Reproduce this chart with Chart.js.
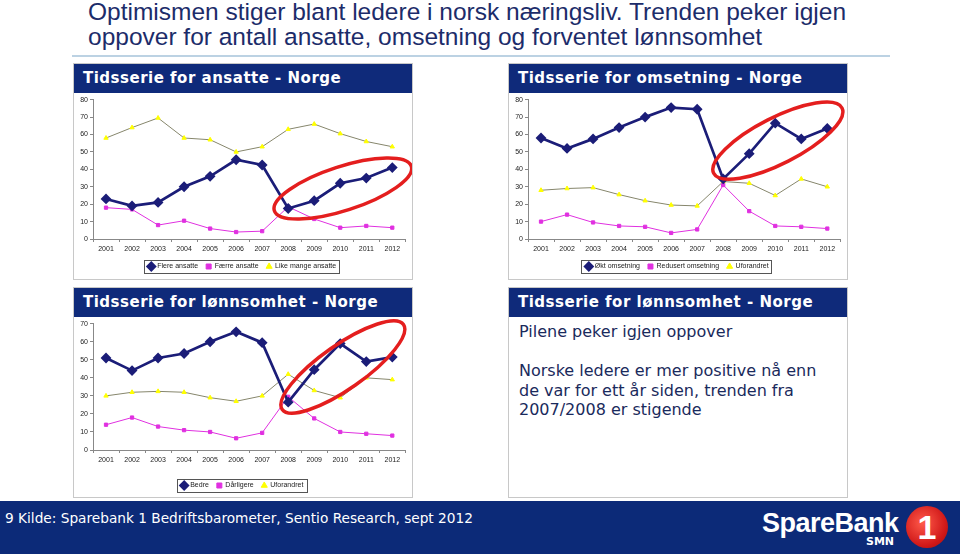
<!DOCTYPE html>
<html>
<head>
<meta charset="utf-8">
<script src="https://cdn.jsdelivr.net/npm/chart.js@4"></script>
<style>
  html, body { margin: 0; padding: 0; }
  body { width: 960px; height: 554px; position: relative; background: #fff; overflow: hidden; font-family: "DejaVu Sans", sans-serif; }
  .title { position: absolute; left: 88px; top: -1px; font-family: "Liberation Sans", Arial, sans-serif; font-size: 24.5px; line-height: 25px; color: #1c2c6a; }
  .sep { position: absolute; left: 72px; top: 55px; width: 818px; height: 2px; background: #bcd2e3; }
  .panel { position: absolute; border: 1px solid #c8c8c8; background: #fff; box-sizing: border-box; }
  .panel .head { height: 29px; background: #0f2a7a; color: #fff; font-weight: bold; font-size: 15px; letter-spacing: 0.5px; line-height: 29px; padding-left: 9px; }
  .panel canvas { position: absolute; left: 0; }
  .txt { padding: 5px 10px; color: #1a2a5c; font-size: 16px; line-height: 19.5px; }
  .footer { position: absolute; left: 0; top: 501px; width: 960px; height: 53px; background: #0c2a78; color: #fff; }
  .footer .src { position: absolute; left: 5px; top: 9px; font-size: 13.7px; }
  .logo { position: absolute; left: 762px; top: 7px; font-family: "Liberation Sans", Arial, sans-serif; font-weight: bold; color: #fff; font-size: 27px; letter-spacing: -0.5px; }
  .smn { position: absolute; left: 866px; top: 34px; font-family: "DejaVu Sans", sans-serif; font-weight: bold; color: #fff; font-size: 11px; }
  .one { position: absolute; left: 906px; top: 5px; width: 42px; height: 42px; border-radius: 50%; background: radial-gradient(circle at 40% 40%, #ff5a4a, #d01818 65%, #9a0c0c); color: #fff; font-family: "Liberation Sans", Arial, sans-serif; font-weight: bold; font-size: 34px; line-height: 42px; text-align: center; }
</style>
</head>
<body>
<div class="title">Optimismen stiger blant ledere i norsk næringsliv. Trenden peker igjen<br>oppover for antall ansatte, omsetning og forventet lønnsomhet</div>
<div class="sep"></div>

<div class="panel" style="left:73px; top:63px; width:340px; height:217px;">
  <div class="head">Tidsserie for ansatte - Norge</div>
  <canvas id="c1" style="top:29px;"></canvas>
</div>
<div class="panel" style="left:508px; top:63px; width:340px; height:217px;">
  <div class="head">Tidsserie for omsetning - Norge</div>
  <canvas id="c2" style="top:29px;"></canvas>
</div>
<div class="panel" style="left:73px; top:287px; width:340px; height:211px;">
  <div class="head">Tidsserie for lønnsomhet - Norge</div>
  <canvas id="c3" style="top:29px;"></canvas>
</div>
<div class="panel" style="left:508px; top:287px; width:340px; height:211px;">
  <div class="head">Tidsserie for lønnsomhet - Norge</div>
  <div class="txt">Pilene peker igjen oppover<br><br>Norske ledere er mer positive nå enn<br>de var for ett år siden, trenden fra<br>2007/2008 er stigende</div>
</div>

<div class="footer">
  <div class="src">9 Kilde: Sparebank 1 Bedriftsbarometer, Sentio Research, sept 2012</div>
  <div class="logo">SpareBank</div>
  <div class="smn">SMN</div>
  <div class="one">1</div>
</div>

<script>
// Data
const years = ['2001', '2002', '2003', '2004', '2005', '2006', '2007', '2008', '2009', '2010', '2011', '2012'];

const ansatteFlere = [23, 19, 21, 30, 36, 45.5, 42.5, 17.5, 22, 32, 35, 41];
const ansatteFaerre = [18, 17, 8, 10.5, 6, 4, 4.5, 18.5, 11.5, 6.5, 7.5, 6.5];
const ansatteLike = [58, 64, 69.5, 58, 57, 50, 53, 63, 66, 60.5, 56, 53];

const omsOkt = [58, 52, 57.5, 64, 70, 75.5, 74.5, 34.5, 49, 66.5, 57.5, 63.5];
const omsRedusert = [10, 14, 9.5, 7.5, 7, 3.5, 5.5, 31, 16, 7.5, 7, 6];
const omsUforandret = [28, 29, 29.5, 25.5, 22, 19.5, 19, 33, 32, 25, 34.5, 30];

const lonnBedre = [51, 44, 51, 53.5, 60, 65.5, 59.5, 26.5, 44.5, 59, 49, 51.5];
const lonnDarligere = [14, 18, 13, 11, 10, 6.5, 9.5, 29.5, 17.5, 10, 9, 8];
const lonnUforandret = [30, 32, 32.5, 32, 29, 27, 30, 42, 33, 29, 40, 39];

const NAVY = '#1b1d78';
const MAGENTA = '#e030e0';
const OLIVE = '#86866c';
const YELLOW = '#ffff00';

/**
 * Red ellipse drawn round the latest trend, centre given in data units
 */
const ellipsePlugin = {
    id: 'trendEllipse',
    afterDatasetsDraw(chart, args, opts) {
        if (!opts || opts.x === undefined) return;
        const ctx = chart.ctx;
        const cx = chart.scales.x.getPixelForValue(opts.x);
        const cy = chart.scales.y.getPixelForValue(opts.y);
        ctx.save();
        ctx.beginPath();
        ctx.ellipse(cx, cy, opts.rx, opts.ry, opts.rot * Math.PI / 180, 0, Math.PI * 2);
        ctx.strokeStyle = '#e41e1e';
        ctx.lineWidth = 3.5;
        ctx.stroke();
        ctx.restore();
    }
};

/**
 * Thin frame round the legend, like the Excel chart
 */
const legendBoxPlugin = {
    id: 'legendBox',
    afterDraw(chart) {
        const boxes = chart.legend && chart.legend.legendHitBoxes;
        if (!boxes || !boxes.length) return;
        let l = Infinity, t = Infinity, r = -Infinity, b = -Infinity;
        boxes.forEach(h => {
            l = Math.min(l, h.left); t = Math.min(t, h.top);
            r = Math.max(r, h.left + h.width); b = Math.max(b, h.top + h.height);
        });
        const ctx = chart.ctx;
        ctx.save();
        ctx.strokeStyle = '#555';
        ctx.lineWidth = 1;
        ctx.strokeRect(Math.round(l - 5) + 0.5, Math.round(t - 3) + 0.5, Math.round(r - l + 8), Math.round(b - t + 6));
        ctx.restore();
    }
};

function makeChart(id, height, yMax, topPad, xAxisHeight, names, values, ellipse) {
    const canvas = document.getElementById(id);
    canvas.width = 338;
    canvas.height = height;
    canvas.style.width = '338px';
    canvas.style.height = height + 'px';

    const styles = [
        { borderColor: NAVY, backgroundColor: NAVY, borderWidth: 2.7, pointStyle: 'rectRot', pointRadius: 3.5, pointBorderColor: NAVY },
        { borderColor: MAGENTA, backgroundColor: MAGENTA, borderWidth: 1, pointStyle: 'rect', pointRadius: 2.3, pointBorderColor: MAGENTA },
        { borderColor: OLIVE, backgroundColor: YELLOW, borderWidth: 1, pointStyle: 'triangle', pointRadius: 2.5, pointBorderColor: YELLOW }
    ];

    return new Chart(canvas, {
        type: 'line',
        data: {
            labels: years,
            datasets: names.map((name, i) => Object.assign({
                label: name,
                data: values[i],
                tension: 0,
                fill: false
            }, styles[i]))
        },
        options: {
            responsive: false,
            animation: false,
            layout: { padding: { left: 0, right: 1, top: topPad, bottom: 0 } },
            scales: {
                x: {
                    offset: true,
                    grid: { drawOnChartArea: false, drawTicks: true, tickLength: 3, color: '#888', offset: true },
                    border: { color: '#888' },
                    ticks: { font: { family: 'Liberation Sans', size: 7 }, color: '#222', padding: 3, maxRotation: 0 },
                    afterFit: s => { s.height = xAxisHeight; }
                },
                y: {
                    min: 0,
                    max: yMax,
                    grid: { drawOnChartArea: false, drawTicks: true, tickLength: 3, color: '#888' },
                    border: { color: '#888' },
                    ticks: { stepSize: 10, font: { family: 'Liberation Sans', size: 7 }, color: '#222', padding: 2 },
                    afterFit: s => { s.width = 19; }
                }
            },
            plugins: {
                legend: {
                    position: 'bottom',
                    labels: {
                        usePointStyle: true,
                        boxWidth: 5,
                        boxHeight: 5,
                        padding: 8,
                        font: { family: 'Liberation Sans', size: 7 },
                        color: '#222'
                    }
                },
                tooltip: { enabled: false },
                trendEllipse: ellipse
            }
        },
        plugins: [ellipsePlugin, legendBoxPlugin]
    });
}

makeChart('c1', 187, 80, 6, 16,
    ['Flere ansatte', 'Færre ansatte', 'Like mange ansatte'],
    [ansatteFlere, ansatteFaerre, ansatteLike],
    { x: 9.1, y: 29, rx: 72, ry: 22, rot: -18 });

makeChart('c2', 187, 80, 5, 16,
    ['Økt omsetning', 'Redusert omsetning', 'Uforandret'],
    [omsOkt, omsRedusert, omsUforandret],
    { x: 9.1, y: 56.5, rx: 72, ry: 23, rot: -27 });

makeChart('c3', 182, 70, 2, 24,
    ['Bedre', 'Dårligere', 'Uforandret'],
    [lonnBedre, lonnDarligere, lonnUforandret],
    { x: 9.1, y: 46, rx: 74, ry: 22, rot: -35 });
</script>
</body>
</html>
